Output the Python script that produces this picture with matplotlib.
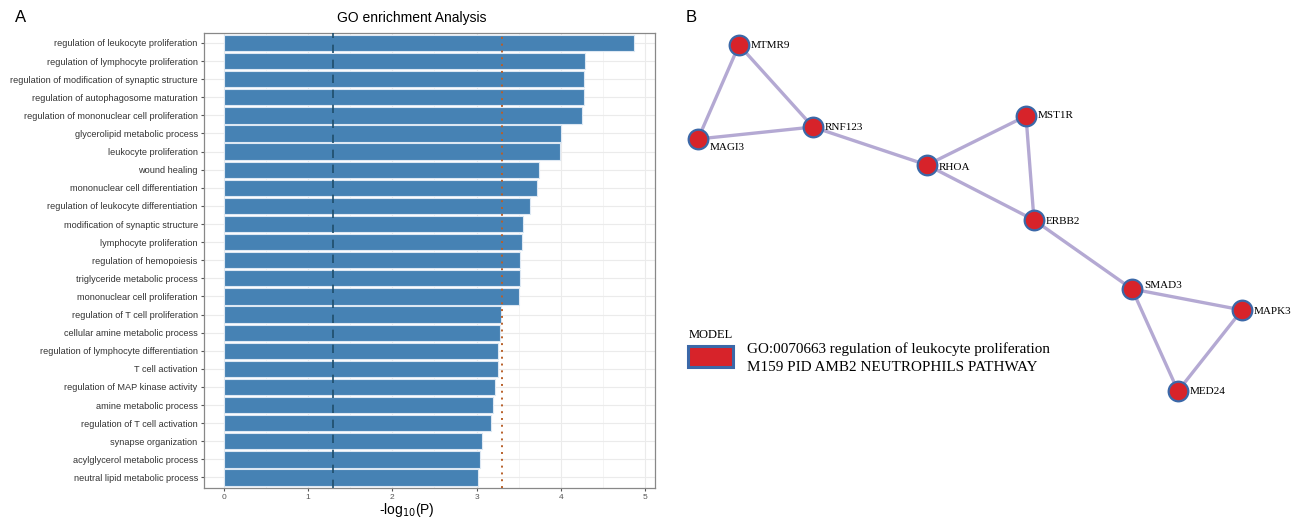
import matplotlib
matplotlib.use("Agg")
import matplotlib.pyplot as plt
from matplotlib.patches import Rectangle
import numpy as np

# GO terms, top to bottom
terms = [
    "regulation of leukocyte proliferation",
    "regulation of lymphocyte proliferation",
    "regulation of modification of synaptic structure",
    "regulation of autophagosome maturation",
    "regulation of mononuclear cell proliferation",
    "glycerolipid metabolic process",
    "leukocyte proliferation",
    "wound healing",
    "mononuclear cell differentiation",
    "regulation of leukocyte differentiation",
    "modification of synaptic structure",
    "lymphocyte proliferation",
    "regulation of hemopoiesis",
    "triglyceride metabolic process",
    "mononuclear cell proliferation",
    "regulation of T cell proliferation",
    "cellular amine metabolic process",
    "regulation of lymphocyte differentiation",
    "T cell activation",
    "regulation of MAP kinase activity",
    "amine metabolic process",
    "regulation of T cell activation",
    "synapse organization",
    "acylglycerol metabolic process",
    "neutral lipid metabolic process",
]
logp = [4.87, 4.29, 4.28, 4.28, 4.25, 4.00, 3.99, 3.74, 3.72, 3.63,
        3.55, 3.54, 3.52, 3.52, 3.50, 3.29, 3.28, 3.26, 3.25, 3.22,
        3.20, 3.17, 3.07, 3.04, 3.02]
cut_p05 = 1.30
cut_strict = 3.30

# network (positions in pixel space of the right panel)
genes = ["MTMR9", "MAGI3", "RNF123", "RHOA", "MST1R", "ERBB2", "SMAD3", "MAPK3", "MED24"]
gx = [739, 698, 813, 927, 1026, 1034, 1132, 1242, 1178]
gy = [45, 139, 127, 165, 116, 220, 289, 310, 391]
label_dy = [0, 8, 0, 2, 0, 2, -4, 2, 1]
edges = [("MTMR9", "MAGI3"), ("MTMR9", "RNF123"), ("MAGI3", "RNF123"),
         ("RNF123", "RHOA"), ("RHOA", "MST1R"), ("RHOA", "ERBB2"),
         ("MST1R", "ERBB2"), ("ERBB2", "SMAD3"), ("SMAD3", "MAPK3"),
         ("SMAD3", "MED24"), ("MAPK3", "MED24")]
legend_lines = ["GO:0070663 regulation of leukocyte proliferation",
                "M159 PID AMB2 NEUTROPHILS PATHWAY"]

W, H = 1297, 521
fig = plt.figure(figsize=(W / 100, H / 100), dpi=100)
sans = "Liberation Sans"
serif = "Liberation Serif"

# ---- panel A
ax = fig.add_axes([204 / W, 1 - 488 / H, (655 - 204) / W, (488 - 33) / H])
y = np.arange(len(terms))[::-1]
ax.barh(y, logp, height=0.9, color="#4682B4", edgecolor="#dde8f3", linewidth=0.8, zorder=3)
ax.axvline(cut_p05, color="#1f4e6b", ls=(0, (5, 4)), lw=1.2, zorder=4)
ax.axvline(cut_strict, color="#b8602a", ls=(0, (1, 2.5)), lw=1.4, zorder=4)
ax.set_xlim(-0.2375, 5.119)
ax.set_ylim(-0.58, len(terms) - 0.45)
ax.set_yticks(y)
ax.set_yticklabels(terms, fontsize=6.6, family=sans, color="#333333")
ax.set_xticks(range(6))
ax.set_xticks(np.arange(0.5, 5.5, 1), minor=True)
ax.tick_params(axis="x", labelsize=6, labelcolor="#555555", length=2.5, color="#555555", pad=1.5)
ax.tick_params(axis="x", which="minor", length=0)
ax.tick_params(axis="y", length=2.5, color="#555555", pad=2)
for lab in ax.get_xticklabels():
    lab.set_family(sans)
ax.grid(True, which="major", color="#ebebeb", lw=0.8, zorder=0)
ax.grid(True, which="minor", axis="x", color="#f3f3f3", lw=0.6, zorder=0)
ax.set_axisbelow(True)
for s in ax.spines.values():
    s.set_color("#888888")
    s.set_linewidth(0.9)
fig.text(407 / W, 1 - 510 / H, "-log$_{10}$(P)", fontsize=10, family=sans, ha="center", va="center")
fig.text(412 / W, 1 - 18 / H, "GO enrichment Analysis", fontsize=10, family=sans, ha="center", va="center")

fig.text(15 / W, 1 - 18 / H, "A", fontsize=12, family=sans, va="center")
fig.text(686 / W, 1 - 18 / H, "B", fontsize=12, family=sans, va="center")

# ---- panel B
bx = fig.add_axes([0, 0, 1, 1], zorder=-1)
bx.set_xlim(0, W)
bx.set_ylim(H, 0)
bx.axis("off")
pos = {g: (x0, y0) for g, x0, y0 in zip(genes, gx, gy)}
for a, b in edges:
    bx.plot([pos[a][0], pos[b][0]], [pos[a][1], pos[b][1]],
            color="#b4a9d3", lw=2.4, zorder=1, solid_capstyle="round")
bx.scatter(gx, gy, s=200, color="#d7232a", edgecolor="#3b68a8", linewidth=1.6, zorder=2)
for g, x0, y0, dy in zip(genes, gx, gy, label_dy):
    bx.text(x0 + 12, y0 + dy, g, fontsize=8, family=serif, va="center", ha="left", zorder=3)

bx.text(689, 335, "MODEL", fontsize=9, family=serif, va="center", ha="left")
bx.add_patch(Rectangle((688, 346), 45, 21, facecolor="#d7232a", edgecolor="#3b68a8", lw=2.2))
for i, line in enumerate(legend_lines):
    bx.text(747, 349 + i * 18.5, line, fontsize=10.9, family=serif, va="center", ha="left")

fig.savefig("out.png", dpi=100)
